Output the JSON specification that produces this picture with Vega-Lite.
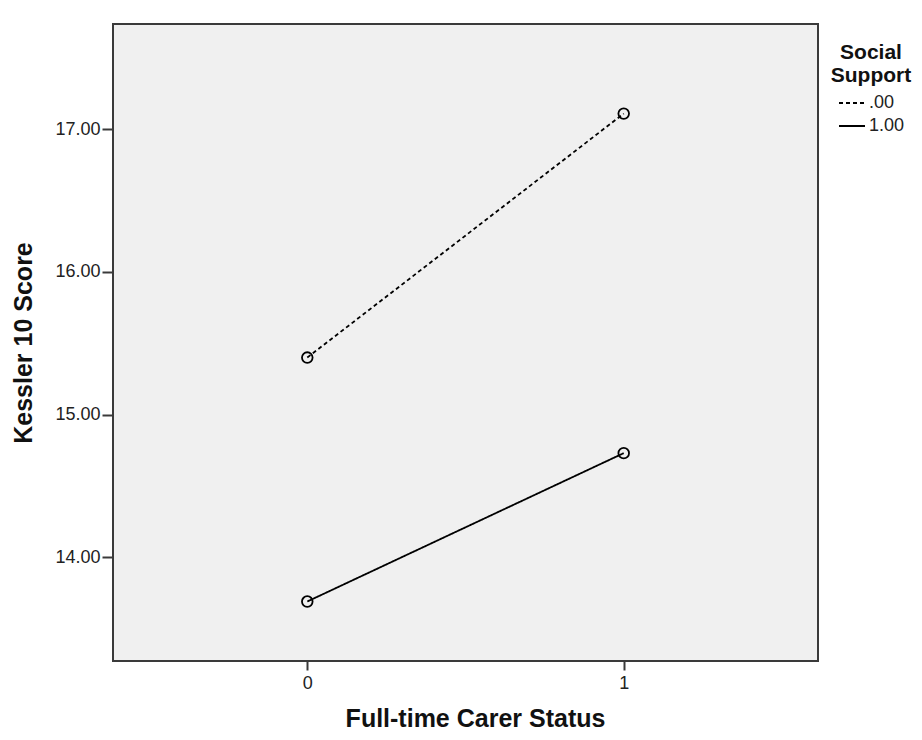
{
  "$schema": "https://vega.github.io/schema/vega-lite/v6.json",
  "width": 705,
  "height": 637,
  "autosize": {"type": "none"},
  "padding": {"left": 113, "top": 24, "right": 104, "bottom": 79},
  "background": "white",
  "config": {
    "font": "Liberation Sans",
    "view": {"fill": "#f0f0f0", "stroke": "#3a3a3a", "strokeWidth": 2},
    "axis": {
      "labelFont": "Liberation Sans",
      "labelFontSize": 18,
      "labelColor": "#222222",
      "titleFont": "Liberation Sans",
      "titleFontSize": 25,
      "titleFontWeight": "bold",
      "titleColor": "#111111",
      "tickColor": "#3a3a3a",
      "tickWidth": 2,
      "domain": false,
      "grid": false
    }
  },
  "data": {
    "values": [
      {"status": 0, "support": ".00", "score": 15.40},
      {"status": 1, "support": ".00", "score": 17.11},
      {"status": 0, "support": "1.00", "score": 13.69},
      {"status": 1, "support": "1.00", "score": 14.73}
    ]
  },
  "encoding": {
    "x": {
      "field": "status",
      "type": "quantitative",
      "scale": {"domain": [-0.614, 1.614], "nice": false, "zero": false},
      "axis": {
        "values": [0, 1],
        "format": "d",
        "title": "Full-time Carer Status",
        "tickSize": 9,
        "labelPadding": 4,
        "titlePadding": 14,
        "titleX": 362
      }
    },
    "y": {
      "field": "score",
      "type": "quantitative",
      "scale": {"domain": [13.273, 17.738], "nice": false, "zero": false},
      "axis": {
        "values": [14, 15, 16, 17],
        "format": ".2f",
        "title": "Kessler 10 Score",
        "tickSize": 11,
        "labelPadding": 2,
        "titlePadding": 18
      }
    },
    "detail": {"field": "support", "type": "nominal"}
  },
  "layer": [
    {
      "mark": {"type": "line", "color": "black", "strokeWidth": 1.8},
      "encoding": {
        "strokeDash": {
          "field": "support",
          "type": "nominal",
          "scale": {"domain": [".00", "1.00"], "range": [[4, 3], [1, 0]]},
          "legend": {
            "title": ["Social", "Support"],
            "titleFont": "Liberation Sans",
            "titleFontSize": 21,
            "titleFontWeight": "bold",
            "titleColor": "#111111",
            "titleAlign": "center",
            "titleAnchor": "middle",
            "titlePadding": 3,
            "labelFont": "Liberation Sans",
            "labelFontSize": 18,
            "labelColor": "#222222",
            "labelOffset": 3,
            "symbolType": "stroke",
            "symbolSize": 676,
            "symbolStrokeColor": "black",
            "symbolStrokeWidth": 1.8,
            "rowPadding": -8,
            "orient": "none",
            "legendX": 718,
            "legendY": 18
          }
        }
      }
    },
    {
      "mark": {"type": "point", "shape": "circle", "filled": false, "color": "black", "size": 113, "strokeWidth": 1.8, "opacity": 1}
    }
  ]
}
